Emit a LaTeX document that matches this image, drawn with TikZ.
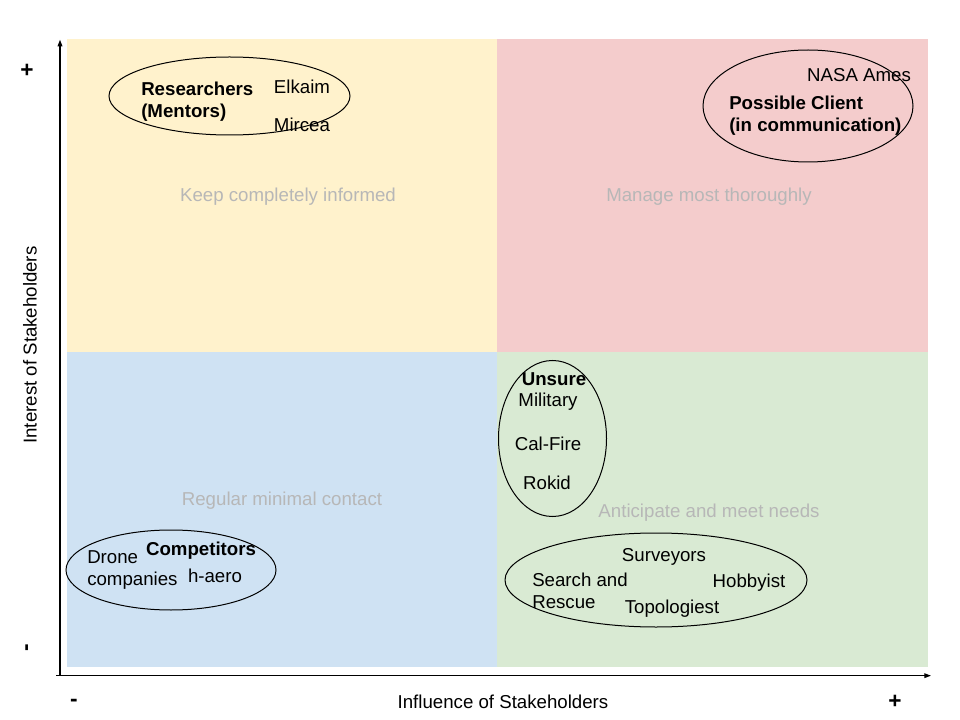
\documentclass[tikz,border=0pt]{standalone}
\usepackage{fontspec}
\setmainfont{Liberation Sans}
\usepackage{xcolor}
\usetikzlibrary{arrows.meta,shapes.geometric}

\definecolor{quadyellow}{HTML}{FFF2CC}
\definecolor{quadred}{HTML}{F4CCCC}
\definecolor{quadblue}{HTML}{CFE2F3}
\definecolor{quadgreen}{HTML}{D9EAD3}
\definecolor{hintgray}{HTML}{B7B7B7}

\begin{document}
\begin{tikzpicture}[
    x=0.75pt, y=-0.75pt,
    every node/.style={font=\fontsize{14}{16.5}\selectfont, inner sep=0pt, yshift=-2pt},
    hint/.style={text=hintgray},
    grouptitle/.style={font=\fontsize{14}{16.5}\selectfont\bfseries, align=left},
    member/.style={align=left},
    group/.style={ellipse, draw=black, line width=0.75pt, inner sep=0pt, yshift=2pt},
    axisarr/.style={-{Triangle[length=5pt,width=3.5pt]}, line width=0.9pt},
    axistext/.style={yshift=2pt},
    sign/.style={axistext, font=\fontsize{17}{18}\selectfont\bfseries}
  ]
    \useasboundingbox (0,0) rectangle (960,720);

    % Quadrants
    \fill[quadyellow] (67,39) rectangle (497,352);
    \fill[quadred] (497,39) rectangle (928,352);
    \fill[quadblue] (67,352) rectangle (497,667);
    \fill[quadgreen] (497,352) rectangle (928,667);

    % Quadrant hints
    \node[hint] (keep) at (288,194) {Keep completely informed};
    \node[hint] (manage) at (709,194) {Manage most thoroughly};
    \node[hint] (regular) at (282,498) {Regular minimal contact};
    \node[hint] (anticipate) at (709,510) {Anticipate and meet needs};

    % Axes
    \coordinate (origin) at (60,673);
    \coordinate (ytop) at (60,37);
    \coordinate (xend) at (931,673);
    \draw[axisarr] (origin) -- (ytop);
    \draw[axisarr] ([xshift=-3]origin) -- (xend);
    \node[axistext, rotate=90] (ylabel) at (30,345) {Interest of Stakeholders};
    \node[axistext] (xlabel) at (503,702) {Influence of Stakeholders};
    \node[sign] (yplus) at (27,71) {+};
    \node[sign, rotate=90] (yminus) at (29,648) {-};
    \node[sign] (xminus) at (74,703) {-};
    \node[sign] (xplus) at (895,702) {+};

    % Researchers
    \node[group, minimum width=180.75pt, minimum height=58.5pt] (researchers) at (229.5,96) {};
    \node[grouptitle, anchor=west] (mentors) at (141,99) {Researchers\\(Mentors)};
    \node (elkaim) at (302,84) {Elkaim};
    \node (mircea) at (302,122) {Mircea};

    % Possible client
    \node[group, minimum width=157.5pt, minimum height=84pt] (client) at (808,106) {};
    \node (nasa) at (859,72) {NASA Ames};
    \node[grouptitle, anchor=west] (possible) at (729,113) {Possible Client\\(in communication)};

    % Unsure
    \node[group, minimum width=81pt, minimum height=117pt] (unsure) at (552.5,438.5) {};
    \node[grouptitle] (unsuretitle) at (554,377) {Unsure};
    \node (military) at (548,399) {Military};
    \node (calfire) at (548,441) {Cal-Fire};
    \node (rokid) at (547,480) {Rokid};

    % Competitors
    \node[group, minimum width=157.5pt, minimum height=60pt] (competitors) at (171,570) {};
    \node[grouptitle] (comptitle) at (201,548) {Competitors};
    \node[member, anchor=west] (drone) at (87,567.5) {Drone\\companies};
    \node (haero) at (215,573) {h-aero};

    % Users
    \node[group, minimum width=226.5pt, minimum height=70.5pt] (users) at (656,580) {};
    \node (surveyors) at (664,554) {Surveyors};
    \node[member, anchor=west] (rescue) at (532,588.5) {Search and\\Rescue};
    \node (hobbyist) at (749,580) {Hobbyist};
    \node (topo) at (672,606) {Topologiest};

  \end{tikzpicture}
\end{document}
